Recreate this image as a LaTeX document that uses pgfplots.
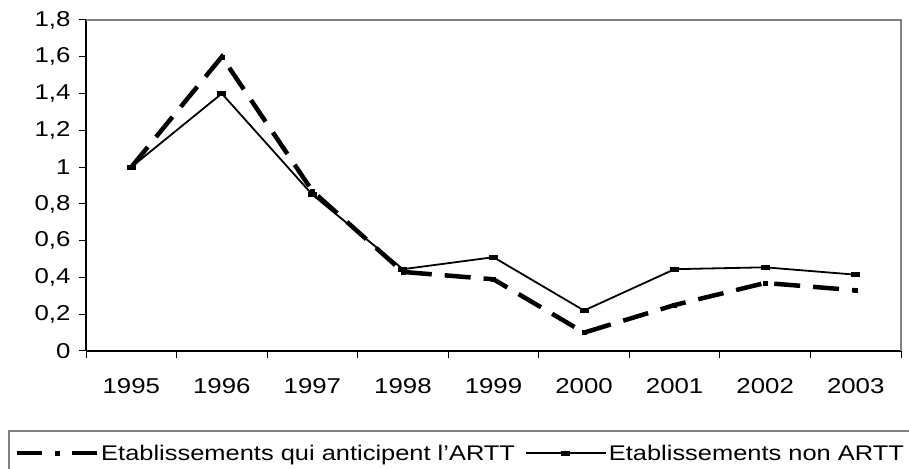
\documentclass[border=0pt]{standalone}
\usepackage{fontspec}
\setmainfont[FakeStretch=1.2]{Liberation Sans}
\usepackage{pgfplots}
\pgfplotsset{compat=1.18}

\newcommand{\chartfont}{\fontsize{21.5}{25}\selectfont}
\newcommand{\legfont}{\fontsize{21.2}{25}\selectfont}

% legend sample of the dashed series: long dash, marker, long dash
\pgfplotsset{
    dashleg/.style={
        legend image code/.code={
            \draw[mark repeat=2,mark phase=2,##1, dash pattern=on 25pt off 30pt]
                plot coordinates {(0pt,0pt) (40pt,0pt) (80pt,0pt)};
        }
    }
}

\begin{document}
\begin{tikzpicture}[x=1pt,y=1pt]
\begin{axis}[
    at={(86pt,117pt)}, anchor=south west,
    width=815pt, height=331pt, scale only axis,
    xmin=0.5, xmax=9.5,
    ymin=0, ymax=1.8,
    xtick={1,...,9},
    xticklabels={1995,1996,1997,1998,1999,2000,2001,2002,2003},
    minor xtick={0.5,1.5,...,9.5},
    ytick={0,0.2,0.4,0.6,0.8,1,1.2,1.4,1.6,1.8},
    major x tick style={draw=none},
    tick align=outside,
    major tick length=7pt, minor tick length=7pt,
    axis x line*=bottom, axis y line*=left,
    axis line style={black, line width=1.3pt},
    tick style={black, line width=1pt},
    /pgf/number format/use comma,
    /pgf/number format/fixed,
    /pgf/number format/precision=1,
    /pgf/number format/assume math mode=true,
    tick label style={font=\chartfont},
    xticklabel style={yshift=-17pt},
    yticklabel style={xshift=-5pt},
    clip=false,
    legend columns=2,
    legend style={
        at={(-0.0957,-0.2387)}, anchor=north west,
        draw=gray, line width=1.5pt,
        font=\legfont,
        inner xsep=6pt, inner ysep=12pt,
        /tikz/every even column/.append style={column sep=8pt},
    },
    legend image code/.code={
        \draw[mark repeat=2,mark phase=2,#1]
            plot coordinates {(0pt,0pt) (40pt,0pt) (80pt,0pt)};
    },
]
\draw[gray, line width=1.8pt] (rel axis cs:0,1) -- (rel axis cs:1,1) -- (rel axis cs:1,0);

\addplot[black, line width=4.5pt, dash pattern=on 26pt off 13pt,
         mark=square*, mark size=2pt, mark options={solid, line width=0.5pt},
         dashleg]
    coordinates {
    (1,1.00) (2,1.60) (3,0.87) (4,0.43) (5,0.39)
    (6,0.10) (7,0.25) (8,0.37) (9,0.33)
};
\addlegendentry{Etablissements qui anticipent l’ARTT}

\addplot[black, line width=1.8pt,
         mark=square*, mark size=2pt, mark options={solid, xscale=1.8, yscale=0.8}]
    coordinates {
    (1,1.00) (2,1.40) (3,0.85) (4,0.445) (5,0.51)
    (6,0.22) (7,0.445) (8,0.455) (9,0.415)
};
\addlegendentry{Etablissements non ARTT}
\end{axis}
\pgfresetboundingbox
\path (0,0) rectangle (909,468);
\end{tikzpicture}
\end{document}
